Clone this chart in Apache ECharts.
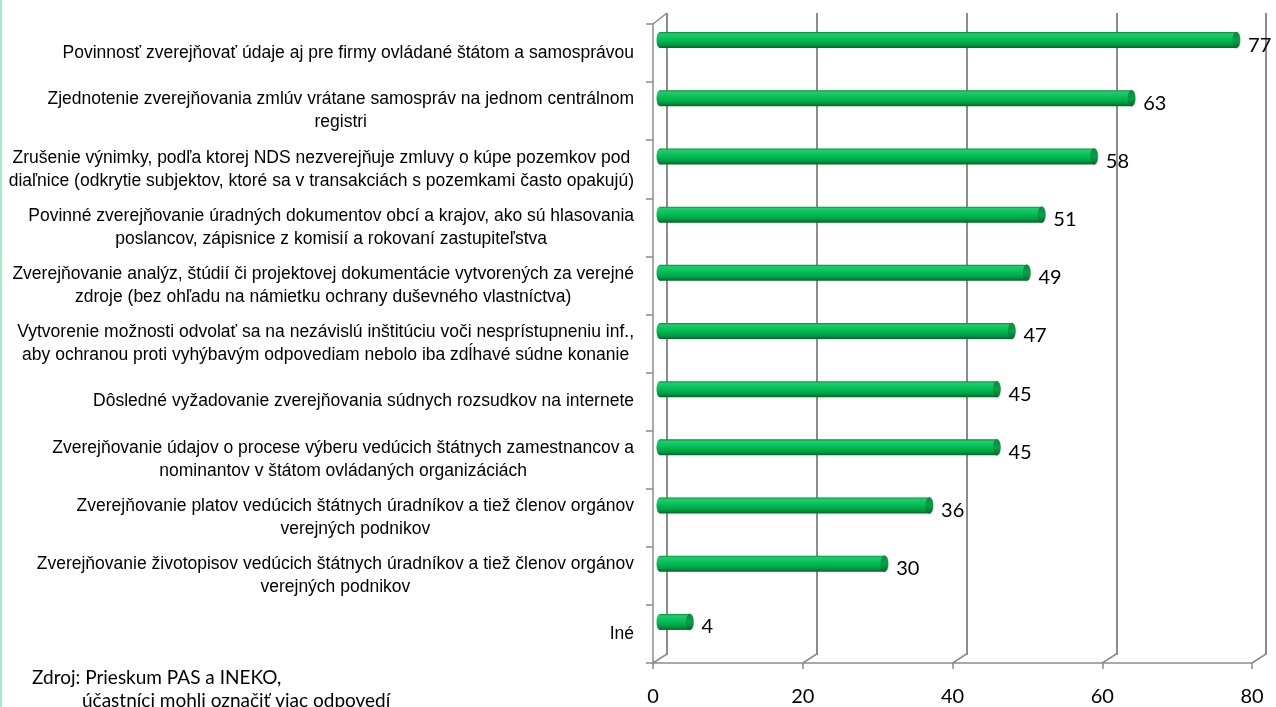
<!DOCTYPE html>
<html><head><meta charset="utf-8">
<script src="https://cdn.jsdelivr.net/npm/echarts@6/dist/echarts.min.js"></script>
<style>html,body{margin:0;padding:0;background:#fff}#c{width:1276px;height:707px}</style>
</head><body><div id="c"></div>
<script>
const categories = [
  "Povinnosť zverejňovať údaje aj pre firmy ovládané štátom a samosprávou",
  "Zjednotenie zverejňovania zmlúv vrátane samospráv na jednom centrálnom\nregistri",
  "Zrušenie výnimky, podľa ktorej NDS nezverejňuje zmluvy o kúpe pozemkov pod\ndiaľnice (odkrytie subjektov, ktoré sa v transakciách s pozemkami často opakujú)",
  "Povinné zverejňovanie úradných dokumentov obcí a krajov, ako sú hlasovania\nposlancov, zápisnice z komisií a rokovaní zastupiteľstva",
  "Zverejňovanie analýz, štúdií či projektovej dokumentácie vytvorených za verejné\nzdroje (bez ohľadu na námietku ochrany duševného vlastníctva)",
  "Vytvorenie možnosti odvolať sa na nezávislú inštitúciu voči nesprístupneniu inf.,\naby ochranou proti vyhýbavým odpovediam nebolo iba zdĺhavé súdne konanie",
  "Dôsledné vyžadovanie zverejňovania súdnych rozsudkov na internete",
  "Zverejňovanie údajov o procese výberu vedúcich štátnych zamestnancov a\nnominantov v štátom ovládaných organizáciách",
  "Zverejňovanie platov vedúcich štátnych úradníkov a tiež členov orgánov\nverejných podnikov",
  "Zverejňovanie životopisov vedúcich štátnych úradníkov a tiež členov orgánov\nverejných podnikov",
  "Iné"
];
const values = [77, 63, 58, 51, 49, 47, 45, 45, 36, 30, 4];
const xTicks = [0, 20, 40, 60, 80];
const sourceLines = ["Zdroj: Prieskum PAS a INEKO,", "účastníci mohli označiť viac odpovedí"];

const GRAY = '#8c8c8c';
const DEPTH_X = 14, DEPTH_Y = -9;
const LABEL_FONT = '"Liberation Sans", Arial, sans-serif';
const NUM_FONT = 'Lato, "Open Sans", sans-serif';
const chart = echarts.init(document.getElementById('c'), null, {renderer: 'canvas'});

const bodyGrad = new echarts.graphic.LinearGradient(0, 0, 0, 1, [
  {offset: 0, color: '#0b8a3e'},
  {offset: 0.12, color: '#22cc6a'},
  {offset: 0.45, color: '#00c058'},
  {offset: 0.8, color: '#009a40'},
  {offset: 1, color: '#006428'}
]);
const capGrad = new echarts.graphic.LinearGradient(0, 0, 0, 1, [
  {offset: 0, color: '#0a8a3e'},
  {offset: 0.5, color: '#00a548'},
  {offset: 1, color: '#006a2a'}
]);

function barItem(params, api) {
  const v = api.value(0), ci = api.value(1);
  const s = api.coord([0, ci]);
  const e = api.coord([v, ci]);
  const h = 16, r = 3.5;
  return {
    type: 'group',
    children: [
      {type: 'ellipse', shape: {cx: s[0], cy: s[1], rx: r, ry: h / 2}, style: {fill: bodyGrad}},
      {type: 'rect', shape: {x: s[0], y: s[1] - h / 2, width: e[0] - s[0], height: h}, style: {fill: bodyGrad}},
      {type: 'ellipse', shape: {cx: e[0], cy: e[1], rx: r, ry: h / 2}, style: {fill: capGrad, stroke: '#0a6e30', lineWidth: 0.5}},
      {type: 'text', x: e[0] + r + 8, y: e[1] + 5, style: {text: String(v), fill: '#000', font: '20px ' + NUM_FONT, verticalAlign: 'middle', align: 'left'}}
    ]
  };
}

function frameItem(params, api) {
  const cs = params.coordSys;
  const v = api.value(0);
  const p = api.coord([v, 0]);
  const bottom = cs.y + cs.height;
  const children = [
    {type: 'line', shape: {x1: p[0], y1: bottom, x2: p[0] + DEPTH_X, y2: bottom + DEPTH_Y}, style: {stroke: GRAY, lineWidth: 1.5}}
  ];
  if (v === 0) {
    children.push({type: 'line', shape: {x1: p[0], y1: cs.y, x2: p[0] + DEPTH_X, y2: cs.y + DEPTH_Y - 2}, style: {stroke: GRAY, lineWidth: 1.5}});
  }
  return {type: 'group', children};
}

const option = {
  animation: false,
  textStyle: {fontFamily: 'Lato'},
  grid: [
    {left: 653, right: 24, top: 24, bottom: 43},   // front plane
    {left: 667, right: 10, top: 13, bottom: 52},   // back wall
    {left: 660, right: 17, top: 11, bottom: 56}    // bars
  ],
  xAxis: [
    {gridIndex: 0, type: 'value', min: 0, max: 80, interval: 20,
     axisLine: {show: true, lineStyle: {color: GRAY, width: 1.5}},
     axisTick: {show: true, length: 6, lineStyle: {color: GRAY, width: 1.5}},
     axisLabel: {show: true, margin: 24, color: '#000', fontSize: 20, fontFamily: NUM_FONT},
     splitLine: {show: false}},
    {gridIndex: 1, type: 'value', min: 0, max: 80, interval: 20,
     axisLine: {show: false}, axisTick: {show: false}, axisLabel: {show: false},
     splitLine: {show: true, lineStyle: {color: GRAY, width: 2}}},
    {gridIndex: 2, type: 'value', min: 0, max: 80, show: false}
  ],
  yAxis: [
    {gridIndex: 0, type: 'category', inverse: true, data: categories,
     axisLine: {show: true, lineStyle: {color: GRAY, width: 1.5}},
     axisTick: {show: true, length: 7, lineStyle: {color: GRAY, width: 1.5}},
     axisLabel: {show: true, margin: 19, align: 'right', color: '#000',
       fontFamily: LABEL_FONT, fontSize: 17.5, lineHeight: 23,
       formatter: function (val) { return val.split('\n').map(l => '{c|' + l + '}').join('\n'); },
       rich: {c: {align: 'center', color: '#000', fontFamily: LABEL_FONT, fontSize: 17.5, lineHeight: 23}}
     }},
    {gridIndex: 1, type: 'value', show: false},
    {gridIndex: 2, type: 'category', inverse: true, data: categories, show: false}
  ],
  series: [
    {type: 'custom', xAxisIndex: 0, yAxisIndex: 0, renderItem: frameItem,
     data: xTicks.map(v => [v]), encode: {x: 0}, silent: true, z: 1},
    {type: 'custom', xAxisIndex: 2, yAxisIndex: 2, renderItem: barItem,
     data: values.map((v, i) => [v, i]), encode: {x: 0, y: 1}, z: 5}
  ],
  graphic: [
    {type: 'rect', left: 0, top: 0, shape: {width: 2, height: 707}, style: {fill: '#a6ecc8'}},
    {type: 'text', left: 32, top: 668, style: {text: sourceLines[0], fill: '#000', font: '19px ' + NUM_FONT}},
    {type: 'text', left: 82, top: 691, style: {text: sourceLines[1], fill: '#000', font: '19px ' + NUM_FONT}}
  ]
};
chart.setOption(option);
</script></body></html>
